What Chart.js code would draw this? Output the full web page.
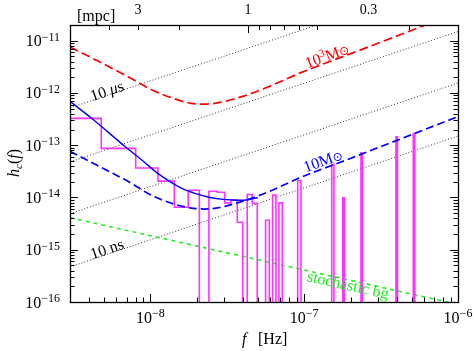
<!DOCTYPE html>
<html>
<head>
<meta charset="utf-8">
<script src="https://cdn.jsdelivr.net/npm/chart.js@4.4.0/dist/chart.umd.min.js"></script>
<style>
  body { margin: 0; background: #fff; }
</style>
</head>
<body>
<canvas id="hc-chart" width="474" height="351"></canvas>
<script>
// axis ranges
var xRange = [3e-9, 1e-6];
var yRange = [1e-16, 2e-11];
var xTicks = [1e-8, 1e-7, 1e-6];
var yTicks = [1e-16, 1e-15, 1e-14, 1e-13, 1e-12, 1e-11];

// top axis: orbital separation in mpc (f at 1 mpc, a ~ f^-2/3)
var fAt1mpc = 4.31e-8;
var mpcTicks = [4, 3, 2, 1, 0.9, 0.8, 0.7, 0.6, 0.5, 0.2];
var mpcLabels = ["3", "1", "0.3"];

// PTA sensitivity (stepped, value holds until next f); 1e-18 = below the plot
var pta_f = [3e-9, 4.79e-9, 8.02e-9, 1.12e-8, 1.43e-8, 1.76e-8, 2.08e-8, 2.40e-8, 2.72e-8, 3.04e-8,
             3.34e-8, 3.67e-8, 3.98e-8, 4.26e-8, 4.59e-8, 4.95e-8, 5.61e-8, 5.93e-8, 6.23e-8, 6.55e-8,
             6.85e-8, 7.20e-8, 9.07e-8, 9.53e-8, 1.51e-7, 1.56e-7, 1.78e-7, 1.82e-7, 2.34e-7, 2.39e-7,
             3.95e-7, 4.04e-7, 5.12e-7, 5.24e-7, 1e-6];
var pta_h = [3.26e-13, 8.7e-14, 3.66e-14, 2.06e-14, 6.5e-15, 1.38e-14, 1e-18, 1.32e-14, 1.26e-14, 7.9e-15,
             8.9e-15, 3.35e-15, 1e-18, 1.14e-14, 7.7e-15, 1e-18, 3.66e-15, 1e-18, 1.11e-14, 1e-18,
             7.9e-15, 1e-18, 2.12e-14, 1e-18, 4.3e-14, 1e-18, 9.9e-15, 1e-18, 7.2e-14, 1e-18,
             1.45e-13, 1e-18, 1.68e-13, 1e-18, 1e-18];

// timing noise curve (solid blue)
var noise_f = [3e-9, 4.24e-9, 6.84e-9, 8.95e-9, 1.10e-8, 1.34e-8, 1.64e-8, 2.00e-8, 2.44e-8, 2.98e-8, 3.64e-8, 4.33e-8, 5.00e-8];
var noise_h = [6.9e-13, 3.11e-13, 9.44e-14, 4.98e-14, 2.99e-14, 2.01e-14, 1.44e-14, 1.17e-14, 1.0e-14, 9.2e-15, 8.87e-15, 9.07e-15, 9.9e-15];

// binaries: 10 Msun and 10^3 Msun
var bh_f = [3e-9, 4.70e-9, 7.36e-9, 9.93e-9, 1.34e-8, 1.81e-8, 2.26e-8, 2.83e-8, 3.55e-8, 4.44e-8, 5.98e-8, 9.52e-8, 1.99e-7, 4.20e-7, 1e-6];
var bh10_h = [7.67e-14, 3.86e-14, 1.94e-14, 1.14e-14, 7.91e-15, 6.34e-15, 6.01e-15, 6.43e-15, 7.67e-15, 9.45e-15, 1.32e-14, 2.43e-14, 5.57e-14, 1.31e-13, 3.53e-13];
var bh1000_h = [7.6e-12, 3.9e-12, 1.95e-12, 1.2e-12, 8.3e-13, 6.4e-13, 6.1e-13, 6.6e-13, 7.8e-13, 9.6e-13, 1.35e-12, 2.45e-12, 5.6e-12, 1.3e-11, 3.5e-11];

// stochastic background
var bg_f = [3e-9, 1e-6];
var bg_h = [4.1e-15, 9e-17];

// timing residual lines 10 ns .. 10 us
var res_f = [3e-9, 1e-6];
var res10ns = [4.7e-16, 1.5e-13];
var res100ns = [4.9e-15, 1.55e-12];
var res1us = [4.8e-14, 1.5e-11];
var res10us = [5.2e-13, 1.6e-10];

function pairs(xs, ys) {
  return xs.map(function(x, i) { return { x: x, y: ys[i] }; });
}

function runs(ctx, list, x, y, align) {
  var w = 0;
  list.forEach(function(r) { ctx.font = r[1]; w += ctx.measureText(r[0]).width; });
  var cx = align === 'right' ? x - w : (align === 'center' ? x - w / 2 : x);
  list.forEach(function(r) {
    ctx.font = r[1];
    ctx.fillText(r[0], cx, y + (r[2] || 0));
    cx += ctx.measureText(r[0]).width;
  });
}

var SERIF = '"Liberation Serif", "Times New Roman", serif';
var F16 = '16px ' + SERIF, F16i = 'italic 16px ' + SERIF;
var F14 = '14px ' + SERIF;
var F12 = '12px ' + SERIF;
var F11 = '11px ' + SERIF, F11i = 'italic 11px ' + SERIF;
var FSUN = '12px "DejaVu Sans", sans-serif';

function rotated(ctx, x, y, deg, color, list) {
  ctx.save();
  ctx.translate(x, y);
  ctx.rotate(deg * Math.PI / 180);
  ctx.fillStyle = color;
  runs(ctx, list, 0, 5, 'center');
  ctx.restore();
}

var framePlugin = {
  id: 'frame',
  afterDatasetsDraw: function(chart) {
    var ctx = chart.ctx, a = chart.chartArea;
    var xs = chart.scales.x, ys = chart.scales.y;
    ctx.save();
    ctx.strokeStyle = '#000';
    ctx.lineWidth = 1.3;
    ctx.strokeRect(a.left + 0.5, a.top + 0.5, a.right - a.left, a.bottom - a.top);

    ctx.lineWidth = 1;
    ctx.beginPath();
    // y ticks, both sides
    for (var d = -16; d <= -11; d++) {
      for (var m = 1; m <= 9; m++) {
        var v = m * Math.pow(10, d);
        if (v < yRange[0] || v > yRange[1]) continue;
        var py = Math.round(ys.getPixelForValue(v)) + 0.5;
        var len = m === 1 ? 8 : 4.5;
        ctx.moveTo(a.left, py); ctx.lineTo(a.left + len, py);
        ctx.moveTo(a.right, py); ctx.lineTo(a.right - len, py);
      }
    }
    // x ticks, bottom
    for (var e = -9; e <= -6; e++) {
      for (var n = 1; n <= 9; n++) {
        var f = n * Math.pow(10, e);
        if (f <= xRange[0] || f >= xRange[1]) continue;
        var px = Math.round(xs.getPixelForValue(f)) + 0.5;
        var l2 = n === 1 ? 8 : 4.5;
        ctx.moveTo(px, a.bottom); ctx.lineTo(px, a.bottom - l2);
      }
    }
    // top axis in mpc
    mpcTicks.forEach(function(am) {
      var fx = fAt1mpc * Math.pow(am, -1.5);
      var px = Math.round(xs.getPixelForValue(fx)) + 0.5;
      ctx.moveTo(px, a.top); ctx.lineTo(px, a.top + (am === 1 ? 8 : 5));
    });
    ctx.stroke();

    ctx.fillStyle = '#000';
    ctx.textBaseline = 'alphabetic';
    ctx.textAlign = 'left';
    yTicks.forEach(function(v) {
      var py = ys.getPixelForValue(v);
      var ex = '\u2212' + String(-Math.round(Math.log10(v)));
      runs(ctx, [['10', F16], [ex, F12, -5.5]], 60, py + 5.5, 'right');
    });
    xTicks.forEach(function(v) {
      var px = xs.getPixelForValue(v);
      var ex = '\u2212' + String(-Math.round(Math.log10(v)));
      runs(ctx, [['10', F16], [ex, F12, -6.5]], px, 323, 'center');
    });
    mpcLabels.forEach(function(s) {
      var fx = fAt1mpc * Math.pow(parseFloat(s), -1.5);
      runs(ctx, [[s, F14]], xs.getPixelForValue(fx), 13.5, 'center');
    });
    runs(ctx, [['[mpc]', F16]], 77, 20.5, 'left');

    // axis titles
    runs(ctx, [['f', F16i]], 242, 344, 'left');
    runs(ctx, [['[Hz]', F16]], 258, 344, 'left');
    ctx.save();
    ctx.translate(19, 163);
    ctx.rotate(-Math.PI / 2);
    runs(ctx, [['h', F16i], ['c', F11i, 3], ['(', F16], ['f', F16i], [')', F16]], 0, 0, 'center');
    ctx.restore();

    // curve labels
    rotated(ctx, 107, 91, -18.5, '#000', [['10 ', F16], ['\u03bc', F16i], ['s', F16]]);
    rotated(ctx, 107, 249, -18.5, '#000', [['10 ns', F16]]);
    rotated(ctx, 327, 56, -20, '#ff0000', [['10', F16], ['3', F11, -6], ['M', F16], ['\u2299', FSUN]]);
    rotated(ctx, 323, 161, -20, '#0000ff', [['10M', F16], ['\u2299', FSUN]]);
    rotated(ctx, 348, 285, 12.5, '#22ee22', [['stochastic bg', F16]]);
    ctx.restore();
  }
};

function line(data, color, width, dash, extra) {
  var ds = { data: data, borderColor: color, borderWidth: width, borderDash: dash,
             pointRadius: 0, fill: false, tension: 0 };
  for (var k in (extra || {})) ds[k] = extra[k];
  return ds;
}

var ctx = document.getElementById('hc-chart');
var chart = new Chart(ctx, {
  type: 'line',
  data: {
    datasets: [
      line(pairs(bh_f, bh1000_h), '#ff0000', 1.7, [9, 4], { cubicInterpolationMode: 'monotone' }),
      line(pairs(bh_f, bh10_h), '#0000ff', 1.7, [8, 4], { cubicInterpolationMode: 'monotone' }),
      line(pairs(noise_f, noise_h), '#0000ff', 1.4, [], { cubicInterpolationMode: 'monotone' }),
      line(pairs(pta_f, pta_h), '#ff33ff', 1.6, [], { stepped: 'before' }),
      line(pairs(bg_f, bg_h), '#22ee22', 1.6, [4, 4]),
      line(pairs(res_f, res10ns), '#333', 1, [1, 2]),
      line(pairs(res_f, res100ns), '#333', 1, [1, 2]),
      line(pairs(res_f, res1us), '#333', 1, [1, 2]),
      line(pairs(res_f, res10us), '#333', 1, [1, 2])
    ]
  },
  options: {
    responsive: false,
    animation: false,
    events: [],
    layout: { padding: { left: 70, top: 25, right: 16, bottom: 49 } },
    plugins: { legend: { display: false }, tooltip: { enabled: false } },
    scales: {
      x: { type: 'logarithmic', min: xRange[0], max: xRange[1], display: false },
      y: { type: 'logarithmic', min: yRange[0], max: yRange[1], display: false }
    }
  },
  plugins: [framePlugin]
});
</script>
</body>
</html>
